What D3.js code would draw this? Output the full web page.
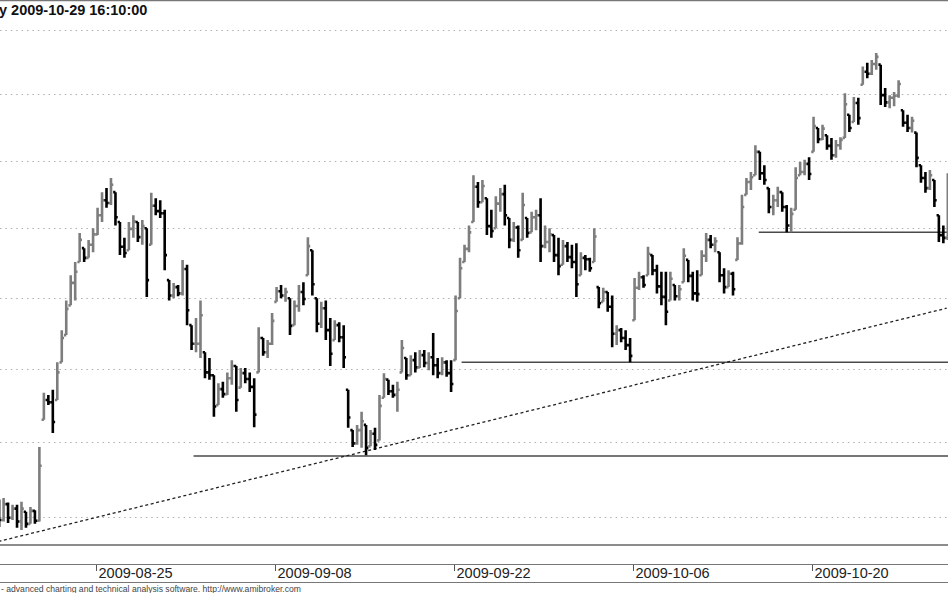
<!DOCTYPE html>
<html>
<head>
<meta charset="utf-8">
<script src="https://cdn.jsdelivr.net/npm/d3@7"></script>
<style>
  body { margin: 0; background: #fff; }
  svg { display: block; }
</style>
</head>
<body>
<div id="chart"></div>
<script>
// trading days shown (hourly-ish bars, 4 per day)
var tradingDays = [
  "2009-08-17","2009-08-18","2009-08-19","2009-08-20","2009-08-21",
  "2009-08-24","2009-08-25","2009-08-26","2009-08-27","2009-08-28",
  "2009-08-31","2009-09-01","2009-09-02","2009-09-03","2009-09-04",
  "2009-09-07","2009-09-08","2009-09-09","2009-09-10","2009-09-11",
  "2009-09-14","2009-09-15","2009-09-16","2009-09-17","2009-09-18",
  "2009-09-21","2009-09-22","2009-09-23","2009-09-24","2009-09-25",
  "2009-09-28","2009-09-29","2009-09-30","2009-10-01","2009-10-02",
  "2009-10-05","2009-10-06","2009-10-07","2009-10-08","2009-10-09",
  "2009-10-12","2009-10-13","2009-10-14","2009-10-15","2009-10-16",
  "2009-10-19","2009-10-20","2009-10-21","2009-10-22","2009-10-23",
  "2009-10-26","2009-10-27","2009-10-28","2009-10-29"
];
var tickDates = ["2009-08-25", "2009-09-08", "2009-09-22", "2009-10-06", "2009-10-20"];
var barsPerDay = 4;
var firstBar = 2; // first bar in the arrays (bars 0-1 are off the left edge)

var high = [
  36.23,36.25,36.19,36.16,36.16,36.20,36.07,36.13,36.09,36.93,
  37.67,37.64,37.71,38.09,38.54,38.96,39.32,39.51,39.93,39.71,
  39.83,40.00,40.30,40.53,40.59,40.74,40.53,40.09,39.86,40.09,
  40.19,40.09,40.12,40.00,40.52,40.44,40.41,40.27,39.25,39.21,
  39.18,39.54,39.47,38.61,38.71,38.96,38.23,38.15,37.91,37.80,
  37.82,37.95,38.12,38.04,38.01,38.01,37.95,37.87,38.58,38.43,
  38.40,38.78,39.15,39.18,39.14,38.99,38.96,39.18,39.22,39.87,
  39.68,38.99,38.94,38.96,38.71,38.68,38.65,38.61,37.71,37.16,
  37.23,37.41,37.23,37.16,37.19,37.64,37.94,37.85,37.78,37.82,
  38.40,38.15,38.19,38.23,38.26,38.26,38.23,38.50,38.15,38.16,
  38.12,38.12,39.03,39.57,39.76,40.04,40.78,40.68,40.71,40.44,
  40.27,40.47,40.59,40.64,40.15,40.09,40.04,40.52,40.15,40.24,
  40.27,40.44,40.04,40.00,39.90,39.86,39.83,39.80,39.76,39.78,
  39.65,39.61,39.57,40.00,39.15,39.14,39.08,39.03,38.61,38.57,
  38.54,38.43,39.28,39.37,39.32,39.73,39.61,39.47,39.37,39.37,
  39.37,39.18,39.18,39.71,39.54,39.37,39.39,39.68,39.93,39.90,
  39.87,39.65,39.42,39.39,39.37,39.87,40.49,40.74,40.83,41.23,
  41.13,40.93,40.59,40.49,40.61,40.53,40.34,40.30,40.90,40.98,
  41.01,41.05,41.66,41.49,41.54,41.38,41.34,41.31,41.35,42.02,
  41.69,41.96,41.95,42.43,42.49,42.53,42.64,42.46,42.10,41.99,
  42.04,42.22,41.76,41.69,41.66,41.42,40.93,40.83,40.86,40.71,
  40.19,40.04,40.81
];
var low = [
  35.87,35.94,35.92,35.96,35.86,35.83,35.86,35.91,35.91,35.94,
  37.30,37.50,37.12,37.57,38.09,38.47,38.89,38.96,39.51,39.51,
  39.57,39.65,39.90,40.09,40.30,40.34,40.04,39.61,39.57,39.68,
  39.86,39.80,39.76,39.01,39.76,40.19,40.15,39.39,38.96,38.99,
  39.02,39.03,38.61,38.26,38.23,38.15,37.87,37.85,37.34,37.50,
  37.60,37.64,37.78,37.41,37.74,37.80,37.68,37.20,37.95,38.18,
  38.15,38.33,38.94,38.99,38.94,38.47,38.61,38.80,38.89,39.32,
  39.03,38.51,38.57,38.40,38.04,38.40,38.37,38.01,37.19,36.93,
  36.96,36.92,36.82,36.94,36.89,37.02,37.60,37.64,37.60,37.41,
  37.95,37.85,37.91,37.95,38.01,38.02,37.98,37.91,37.87,37.91,
  37.89,37.68,38.12,38.99,39.51,39.65,40.09,40.30,40.38,39.90,
  39.86,40.00,40.24,40.04,39.71,39.80,39.57,39.83,39.86,39.94,
  39.97,39.51,39.71,39.65,39.51,39.32,39.47,39.51,39.42,39.01,
  39.32,39.39,39.37,39.51,38.85,38.94,38.80,38.30,38.33,38.37,
  38.26,38.09,38.68,39.11,39.14,39.32,39.32,39.06,38.89,38.61,
  38.96,38.96,38.96,39.22,39.22,38.96,38.94,39.32,39.51,39.71,
  39.65,39.22,39.06,39.15,39.03,39.54,39.76,40.49,40.56,40.78,
  40.71,40.64,40.22,40.19,40.31,40.24,39.94,39.94,40.27,40.78,
  40.78,40.71,41.13,41.26,41.31,41.16,41.01,41.04,41.16,41.34,
  41.43,41.58,41.54,42.15,42.25,42.30,42.38,41.84,41.81,41.79,
  41.82,41.95,41.51,41.43,41.42,40.90,40.67,40.52,40.56,40.31,
  39.80,39.78,39.83
];
var close = [
  35.96,36.17,35.99,36.11,35.94,36.11,35.91,36.08,35.95,36.68,
  37.57,37.54,37.27,37.95,38.43,38.84,39.21,39.37,39.83,39.57,
  39.76,39.91,40.19,40.41,40.37,40.64,40.16,39.73,39.64,39.99,
  40.10,39.87,40.03,39.25,40.33,40.25,40.22,39.61,39.03,39.15,
  39.06,39.41,38.82,38.35,38.35,38.75,37.95,37.91,37.48,37.72,
  37.65,37.87,38.04,37.57,37.94,37.86,37.75,37.37,38.43,38.23,
  38.35,38.67,39.09,39.03,39.08,38.60,38.88,39.08,38.98,39.74,
  39.19,38.63,38.85,38.54,38.21,38.61,38.44,38.16,37.33,36.98,
  37.16,37.28,36.92,37.11,36.96,37.49,37.86,37.69,37.64,37.71,
  38.29,37.91,38.12,38.02,38.19,38.08,38.16,38.05,37.94,38.09,
  37.94,37.79,38.81,39.42,39.70,39.94,40.61,40.38,40.62,40.03,
  39.96,40.36,40.50,40.19,39.83,40.01,39.68,40.34,39.93,40.16,
  40.19,39.74,39.80,39.91,39.61,39.45,39.74,39.58,39.51,39.19,
  39.57,39.55,39.42,39.88,38.92,39.08,38.87,38.49,38.54,38.43,
  38.33,38.18,39.14,39.29,39.18,39.63,39.39,39.16,39.01,38.80,
  39.27,39.02,39.12,39.60,39.31,39.06,39.05,39.60,39.83,39.76,
  39.81,39.32,39.15,39.34,39.12,39.78,40.31,40.68,40.75,41.13,
  40.81,40.71,40.31,40.41,40.53,40.31,40.04,40.21,40.74,40.83,
  40.95,40.80,41.52,41.32,41.48,41.22,41.08,41.23,41.31,41.85,
  41.49,41.87,41.64,42.35,42.32,42.47,42.58,41.99,41.88,41.95,
  41.98,42.16,41.57,41.49,41.60,41.04,40.74,40.59,40.78,40.41,
  39.90,39.86,40.56
];

var gridPrices = [36, 37, 38, 39, 40, 41, 42, 43];
// horizontal support levels and the bar they start from
var supportPrices = [36.81, 38.09, 39.94];
var supportFromBar = [45.8, 105.7, 172.1];
// dotted trend line through two lows
var trendBars = [2.2, 214.1];
var trendPrices = [35.68, 38.85];

var titleText = "y 2009-10-29 16:10:00";
var footerText = "- advanced charting and technical analysis software. http://www.amibroker.com";

var width = 948, height = 593;
var plotBottom = 545;

var svg = d3.select("#chart").append("svg")
    .attr("width", width)
    .attr("height", height)
    .style("font-family", "'Liberation Sans', Arial, sans-serif");

var nSlots = tradingDays.length * barsPerDay;
var slotW = 4.475;
var x = d3.scaleLinear().domain([0, nSlots]).range([-11.4, -11.4 + nSlots * slotW]);
var y = d3.scaleLog().domain([36, 43]).range([517, 30]);

svg.append("clipPath").attr("id", "plot")
  .append("rect").attr("x", 0).attr("y", 1).attr("width", width).attr("height", plotBottom - 1);

// frame lines
svg.append("line").attr("x1", 0).attr("x2", width).attr("y1", 0.5).attr("y2", 0.5)
    .style("stroke", "#777").style("stroke-width", 1.5);
svg.append("line").attr("x1", 0).attr("x2", width).attr("y1", plotBottom).attr("y2", plotBottom)
    .style("stroke", "#666").style("stroke-width", 1.5);

// dotted grid
svg.append("g").selectAll("line")
    .data(gridPrices)
    .enter().append("line")
    .attr("x1", 0).attr("x2", width)
    .attr("y1", function(d) { return Math.round(y(d)) + 0.5; })
    .attr("y2", function(d) { return Math.round(y(d)) + 0.5; })
    .style("stroke", "#b0b0b0")
    .style("stroke-dasharray", "1.5,3.9");

var plot = svg.append("g").attr("clip-path", "url(#plot)");

// support lines
plot.selectAll(".support")
    .data(supportPrices)
    .enter().append("line")
    .attr("class", "support")
    .attr("x1", function(d, i) { return x(supportFromBar[i]); })
    .attr("x2", width)
    .attr("y1", function(d) { return y(d); })
    .attr("y2", function(d) { return y(d); })
    .style("stroke", "#4a4a4a")
    .style("stroke-width", 1.5);

// trend line
plot.append("line")
    .attr("x1", x(trendBars[0])).attr("y1", y(trendPrices[0]))
    .attr("x2", x(trendBars[1])).attr("y2", y(trendPrices[1]))
    .style("stroke", "#222")
    .style("stroke-width", 1.3)
    .style("stroke-dasharray", "3,2.6");

// price bars
var bars = high.map(function(h, k) {
    var prev = k > 0 ? close[k - 1] : (h + low[k]) / 2;
    var open = Math.max(low[k], Math.min(h, prev));
    return { bar: firstBar + k, h: h, l: low[k], o: open, c: close[k], up: close[k] >= prev };
});

plot.selectAll(".bar")
    .data(bars)
    .enter().append("path")
    .attr("class", "bar")
    .attr("d", function(d) {
        var cx = x(d.bar + 0.35);
        return "M" + cx + "," + y(d.l) + "V" + y(d.h) +
               "M" + (cx - 2.3) + "," + y(d.o) + "H" + cx +
               "M" + cx + "," + y(d.c) + "H" + (cx + 2.3);
    })
    .style("fill", "none")
    .style("stroke", function(d) { return d.up ? "#7d7d7d" : "#000"; })
    .style("stroke-width", 2.6);

// date axis band
svg.append("line").attr("x1", 0).attr("x2", width).attr("y1", 564.5).attr("y2", 564.5)
    .style("stroke", "#777");
svg.append("line").attr("x1", 0).attr("x2", width).attr("y1", 582.5).attr("y2", 582.5)
    .style("stroke", "#777");

var tickSlots = tickDates.map(function(d) { return tradingDays.indexOf(d) * barsPerDay; });
var xAxis = d3.axisBottom(x)
    .tickValues(tickSlots)
    .tickSize(6)
    .tickFormat(function(d) { return tradingDays[d / barsPerDay]; });

var axisG = svg.append("g")
    .attr("transform", "translate(0,565)")
    .call(xAxis);
axisG.select(".domain").remove();
axisG.selectAll(".tick line").style("stroke", "#555");
axisG.selectAll(".tick text")
    .attr("text-anchor", "start")
    .attr("x", 2)
    .attr("y", 13)
    .attr("dy", null)
    .style("font-family", "'Liberation Sans', Arial, sans-serif")
    .style("font-size", "14.5px")
    .style("fill", "#222");

// title and footer
svg.append("text")
    .attr("x", -1).attr("y", 15)
    .style("font-size", "14.5px")
    .style("font-weight", "bold")
    .style("fill", "#111")
    .text(titleText);

svg.append("text")
    .attr("x", 1).attr("y", 591.5)
    .style("font-size", "8.6px")
    .style("fill", "#444")
    .text(footerText);
</script>
</body>
</html>
